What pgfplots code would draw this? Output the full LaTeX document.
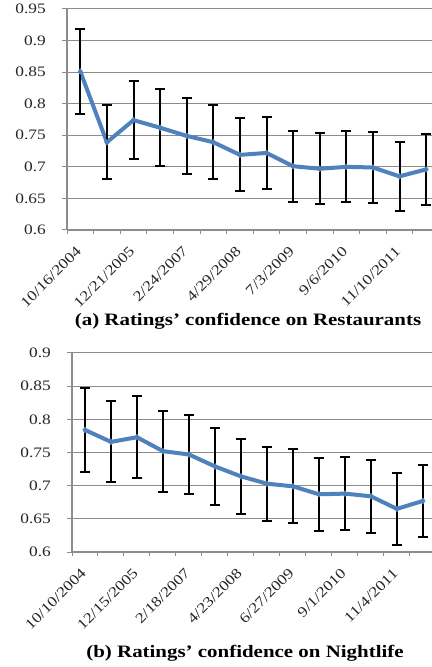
\documentclass[border=0pt]{standalone}
\usepackage{pgfplots}
\pgfplotsset{compat=1.18}
\usepackage{fontspec}
\setmainfont{Liberation Serif}[FakeStretch=1.2]
\definecolor{exblue}{RGB}{79,129,189}
\definecolor{gridgray}{RGB}{140,140,140}
\pgfplotsset{
  myax/.style={
    scale only axis,
    axis x line*=bottom,
    axis y line*=left,
    axis line style={gridgray, line width=1.2pt},
    ymajorgrids,
    grid style={gridgray, line width=1pt},
    xmin=-0.5,
    xtick={0,2,...,12},
    major x tick style={draw=none},
    minor xtick={-0.5,0.5,...,13.5},
    minor x tick style={gridgray, line width=1pt},
    minor tick length=4bp,
    major tick length=5bp,
    tick align=outside,
    y tick style={gridgray, line width=1pt},
    /pgf/number format/assume math mode=true,
    /pgf/number format/fixed,
    /pgf/number format/precision=2,
    tick label style={font=\fontsize{14.5}{14.5}\selectfont, text=black!85},
    xticklabel style={xshift=-5bp, yshift=-9bp, rotate=45, anchor=north east, inner sep=1pt},
    yticklabel style={inner sep=2pt, xshift=-14bp},
    clip=false,
  },
  myline/.style={exblue, line width=4bp, mark=diamond*, mark size=3pt,
    mark options={exblue, line width=0.5pt},
    error bars/.cd, y dir=both, y explicit,
    error bar style={black, line width=2bp},
    error mark options={black, line width=2bp, mark size=5bp, rotate=90}},
}
\begin{document}
\begin{tikzpicture}
\useasboundingbox (0,0) rectangle (432bp,667bp);
% Top panel
\begin{axis}[myax, at={(67bp,437bp)}, anchor=south west,
  width=365bp, height=221bp,
  xmax=13.22, ymin=0.6, ymax=0.95,
  ytick={0.6,0.65,0.7,0.75,0.8,0.85,0.9,0.95},
  xticklabels={10/16/2004,12/21/2005,2/24/2007,4/29/2008,7/3/2009,9/6/2010,11/10/2011},
]
\addplot+[myline] coordinates {
(0,0.851) +- (0,0.068)
(1,0.739) +- (0,0.059)
(2,0.774) +- (0,0.062)
(3,0.762) +- (0,0.061)
(4,0.749) +- (0,0.060)
(5,0.739) +- (0,0.059)
(6,0.719) +- (0,0.058)
(7,0.722) +- (0,0.057)
(8,0.701) +- (0,0.056)
(9,0.697) +- (0,0.056)
(10,0.700) +- (0,0.056)
(11,0.699) +- (0,0.056)
(12,0.685) +- (0,0.055)
(13,0.696) +- (0,0.056)
};
\end{axis}
% Bottom panel
\begin{axis}[myax, at={(72bp,115bp)}, anchor=south west,
  width=360bp, height=199bp,
  xmax=13.35, ymin=0.6, ymax=0.9,
  ytick={0.6,0.65,0.7,0.75,0.8,0.85,0.9},
  xticklabels={10/10/2004,12/15/2005,2/18/2007,4/23/2008,6/27/2009,9/1/2010,11/4/2011},
]
\addplot+[myline] coordinates {
(0,0.784) +- (0,0.063)
(1,0.766) +- (0,0.061)
(2,0.773) +- (0,0.062)
(3,0.752) +- (0,0.061)
(4,0.747) +- (0,0.060)
(5,0.729) +- (0,0.058)
(6,0.714) +- (0,0.057)
(7,0.703) +- (0,0.056)
(8,0.699) +- (0,0.056)
(9,0.687) +- (0,0.055)
(10,0.688) +- (0,0.055)
(11,0.684) +- (0,0.055)
(12,0.665) +- (0,0.054)
(13,0.677) +- (0,0.054)
};
\end{axis}
\node[font=\bfseries\fontsize{17.5}{17.5}\selectfont, anchor=center] at (248bp,346bp) {(a) Ratings' confidence on Restaurants};
\node[font=\bfseries\fontsize{17.5}{17.5}\selectfont, anchor=center] at (245bp,14bp) {(b) Ratings' confidence on Nightlife};
\end{tikzpicture}
\end{document}
